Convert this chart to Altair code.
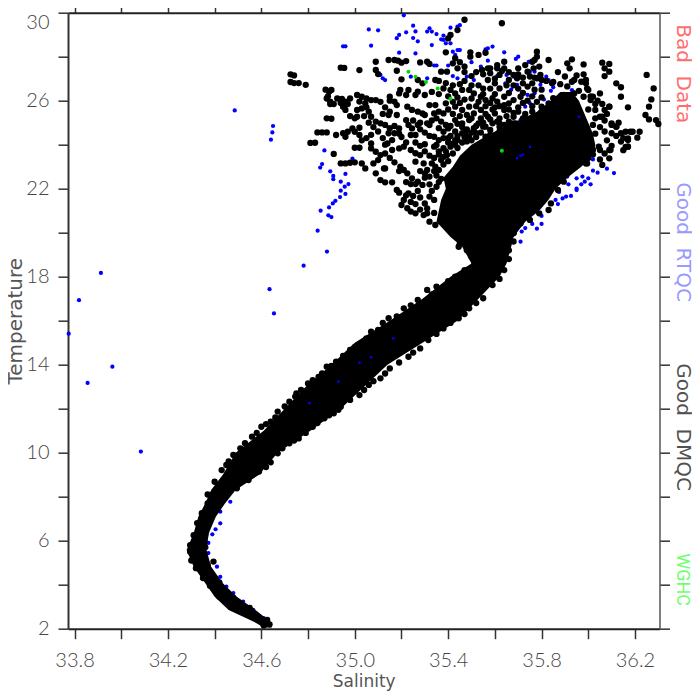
import altair as alt
import pandas as pd

# ---------- solid core of the cloud: temperature, lowest and highest salinity ----------
core_t = [2.05,2.3,2.85,3.45,4.07,4.82,5.58,6.34,7.09,7.7,8.3,9,10,11,12,13,14,15,16,17,18,18.6,19.36,19.8,20.5,21,21.5,22,22.5,23,23.5,24,24.5,25,25.5,26,26.4]
core_lo = [34.61,34.57,34.46,34.40,34.36,34.31,34.28,34.31,34.33,34.36,34.385,34.435,34.49,34.61,34.70,34.79,34.90,35.0,35.15,35.29,35.41,35.50,35.46,35.41,35.35,35.36,35.37,35.39,35.38,35.42,35.45,35.50,35.58,35.68,35.78,35.84,35.88]
core_hi = [34.645,34.64,34.575,34.495,34.435,34.385,34.365,34.375,34.405,34.445,34.49,34.59,34.67,34.81,34.94,35.04,35.14,35.29,35.44,35.53,35.62,35.65,35.67,35.68,35.73,35.79,35.83,35.86,35.91,35.97,36.02,36.03,36.02,36.0,35.98,35.96,35.93]

# ---------- black points (DMQC) ----------
band_upper = [(35.35,17.55),(35.31,17.4),(35.27,16.94),(35.21,16.56),(35.145,16.11),(35.10,15.58),(35.07,15.5),(35.03,14.97),(34.98,14.67),(34.92,14.14),(34.88,13.91),(34.845,13.45),(34.80,13.15),(34.77,12.85),(34.745,12.55),(34.72,12.32),(34.67,11.87),(34.64,11.41),(34.60,11.18),(34.56,10.73),(34.53,10.43),(34.48,9.9),(34.45,9.44),(34.43,9.21),(34.40,8.68),(34.37,8.1),
 (35.33,17.2),(35.24,16.7),(35.18,16.2),(35.12,15.9),(35.05,15.2),(35.0,14.8),(34.95,14.4),(34.90,13.95),(34.86,13.6),(34.82,13.3),(34.75,12.7),(34.70,12.1),(34.66,11.6),(34.62,11.3),(34.58,10.9),(34.51,10.2),(34.46,9.6)]
band_lower = [(35.59,17.62),(35.55,17.02),(35.49,16.56),(35.445,16.11),(35.38,15.65),(35.315,15.12),(35.28,14.74),(35.23,14.36),(35.15,13.83),(35.11,13.38),(35.06,13.08),(35.02,12.62),(34.94,12.09),(34.91,11.79),(34.87,11.56),(34.82,11.18),(34.76,10.65),(34.72,10.43),(34.67,9.97),(34.64,9.56),(34.59,9.14),(34.545,8.76),(34.495,8.38),(34.395,5.05),
 (35.52,16.8),(35.47,16.3),(35.41,15.9),(35.35,15.4),(35.25,14.55),(35.19,14.1),(35.13,13.6),(35.08,13.25),(35.04,12.85),(34.98,12.4),(34.93,11.95),(34.89,11.7),(34.84,11.35),(34.79,10.9),(34.74,10.55),(34.69,10.2),(34.62,9.35)]
neck = [(35.45,19.5),(35.48,19.2),(35.50,18.9),(35.51,18.5),(35.47,18.3),(35.43,18.0),(35.40,17.8),(35.66,19.2),(35.68,19.6),(35.66,18.8),(35.64,18.3),(35.62,17.9)]
low_edges = [(34.61,2.15),(34.635,2.2),(34.625,2.4),(34.575,2.5),(34.52,2.75),(34.47,3.1),(34.42,3.45),(34.38,3.95),(34.35,4.3),(34.32,4.75),(34.30,5.1),(34.295,5.5),(34.295,5.8),(34.31,6.25),(34.325,6.8),(34.345,7.25),(34.37,7.7),(34.36,6.3),(34.36,5.7),(34.37,4.9),(34.42,4.1),(34.48,3.4),(34.55,2.95),(34.40,7.4),(34.42,7.9),(34.46,8.4)]
blob_edges = [(35.68,19.97),(35.71,20.42),(35.75,20.58),(35.79,20.88),(35.83,21.03),(35.84,21.33),(35.87,21.94),(35.895,22.32),(35.91,22.85),(35.945,23.15),(35.995,23.15),(36.02,23.76),(36.045,23.91),(36.095,23.76),(36.17,23.91),(36.17,24.29),(36.19,24.59),(36.12,24.82),(36.10,24.97),(36.09,25.73),(36.06,25.27),(36.03,25.58),(36.02,26.18),(35.995,26.56),(35.99,26.94),
 (35.94,26.33),(35.895,26.26),(35.85,26.11),(35.83,25.88),(35.80,25.73),(35.83,25.27),(35.795,24.89),(35.74,24.74),(35.71,24.74),(35.68,24.97),(35.65,24.74),(35.62,24.97),(35.58,24.67),(35.55,24.82),(35.52,24.52),(35.475,24.59),(35.44,24.21),(35.41,23.91),(35.395,23.53),(35.37,23.3),(35.345,23.0),(35.32,22.55),(35.30,22.7),(35.35,22.09),(35.34,21.49),(35.31,20.88)]
crescent = [(35.42,23.6),(35.44,23.85),(35.43,24.0),(35.46,24.1),(35.48,24.15),(35.41,24.05),(35.39,23.7),(35.38,23.45),(35.36,23.55),(35.40,23.25),(35.38,23.1),(35.36,22.85),(35.35,22.6),(35.37,22.45),(35.36,22.3),(35.47,24.35),(35.50,24.2),(35.52,24.35),(35.54,24.55),(35.58,24.45),(35.62,24.6),(35.66,24.85),(35.70,24.6),(35.74,25.0),(35.50,24.55),(35.44,24.4),(35.40,24.3),(35.34,23.4),(35.33,23.15),(35.34,22.8)]
upper_left = [(34.725,27.2),(34.74,27.15),(34.725,26.85),(34.74,26.8),(34.76,26.8),(34.79,26.72),(34.875,26.5),(34.885,26.2),(34.895,25.85),
 (34.89,26.41),(34.90,26.49),(34.88,26.1),(34.895,25.96),(34.925,26.1),(34.945,26.08),(34.96,25.96),(34.95,25.73),(34.96,25.58),
 (35.01,26.26),(35.03,26.18),(35.02,25.96),(35.045,25.88),(35.01,25.58),(35.03,25.65),(35.01,25.27),(35.0,25.2),
 (35.07,26.03),(35.09,26.03),(35.06,25.5),(35.07,25.27),(35.09,25.05),(35.11,24.97),(35.13,24.9),(35.145,25.35),
 (34.84,24.56),(34.86,24.56),(34.88,24.56),(34.81,24.08),(34.83,24.09),(34.88,25.2),(34.90,25.18),
 (34.92,24.44),(34.95,24.52),(34.97,24.59),(34.99,24.74),(35.0,24.59),(35.02,24.77),(35.02,24.44),(34.96,24.36),
 (34.91,23.58),(35.0,23.86),(35.02,23.86),(35.07,24.06),(35.07,23.83),(35.09,23.68),(35.11,23.53),(35.10,23.3),(35.08,23.15),(35.125,22.92),
 (34.94,23.15),(34.96,23.15),(34.98,23.18),(35.0,23.2),(35.03,23.15),(35.045,22.92),(35.09,22.7),(35.11,22.39),(35.13,22.29),(35.16,22.29),(35.13,22.92),
 (35.18,21.94),(35.19,21.82),(35.23,21.79),(35.25,21.67),(35.24,22.21),(35.26,22.21),(35.195,23.0),(35.21,22.85),(35.225,22.7),(35.245,22.47),(35.27,22.32),(35.29,22.17),
 (35.14,24.06),(35.16,23.76),(35.19,23.83),(35.21,23.91),(35.24,23.76),(35.26,23.61),(35.28,23.53),(35.26,23.23),(35.295,23.15),(35.31,22.85),
 (35.21,21.49),(35.2,21.26),(35.225,21.11),(35.24,20.96),(35.26,20.88),(35.295,20.8),(35.32,20.5),(35.345,20.35),(35.37,20.5),(35.395,20.27),(35.445,19.36),(35.30,21.33),(35.32,21.64),
 (35.32,23.5),(35.30,23.7),(35.28,23.95),(35.26,24.1),(35.22,24.1),(35.20,24.35),(35.19,24.5),(35.17,24.85),(35.15,24.75),(35.12,24.3),(35.13,24.0),(35.13,23.6),(35.15,23.4),(35.17,23.2),(35.19,22.8),(35.22,22.3),(35.30,22.5),(35.28,22.8),(35.32,22.2),(35.33,21.9),(35.27,21.9),(35.28,21.6),(35.24,21.4),(35.22,21.7),(35.26,21.3),(35.31,21.1),(35.34,20.9),(35.28,21.05),
 (35.10,24.6),(35.08,24.8),(35.06,25.0),(35.04,25.3),(35.07,24.45),(35.05,24.3),(35.03,24.2),(34.98,25.3),(34.97,25.85),(34.94,25.9),(34.91,25.85),(35.05,25.7),(35.12,25.4),(35.13,25.7),(35.11,25.95),(35.15,26.0),(35.05,26.1),(34.98,26.1)]
upper_mid = [(35.47,29.68),(35.63,29.52),(35.44,29.21),(35.41,28.99),(35.40,28.83),(35.39,28.2),(35.495,28.2),(35.53,28.08),(35.56,28.18),(35.495,28.0),(35.43,27.93),
 (35.09,27.77),(35.145,27.85),(35.17,27.85),(35.185,27.82),(35.20,27.73),(35.22,27.8),(35.28,27.74),(35.31,27.77),(35.32,27.67),(34.94,27.5),(34.955,27.49),(35.02,27.39),(35.09,27.4),(35.10,27.21),(35.18,27.36),(35.20,26.97),(35.27,26.94),(35.29,26.79),(35.345,26.94),(35.37,27.32),(35.395,27.32),(35.42,27.7),(35.44,27.47),(35.47,27.55),(35.50,27.12),(35.545,27.4),(35.58,27.47),(35.61,27.62),(35.64,27.77),(35.70,27.47),(35.73,27.62),(35.76,27.77),(35.795,27.17),
 (35.15,26.18),(35.17,25.96),(35.18,25.8),(35.195,26.49),(35.19,26.33),(35.23,26.49),(35.22,26.26),(35.27,26.41),(35.30,26.26),(35.26,26.26),(35.18,25.35),(35.15,25.5),(35.19,24.74),(35.17,24.52),(35.145,24.52),(35.16,24.21),
 (35.225,25.73),(35.245,25.58),(35.27,25.5),(35.29,25.42),(35.30,25.35),(35.22,25.12),(35.23,24.9),(35.245,24.74),(35.26,24.44),(35.24,24.44),(35.31,24.97),(35.32,24.89),(35.32,25.8),(35.345,25.8),(35.39,25.88),(35.36,25.5),(35.34,25.42),(35.38,25.42),
 (35.34,24.36),(35.36,24.21),(35.35,23.99),(35.38,23.84),(35.34,23.91),(35.30,24.02),(35.37,25.05),(35.39,24.9),(35.40,24.74),(35.38,24.59),
 (35.38,26.56),(35.41,26.49),(35.43,26.33),(35.46,26.49),(35.49,26.49),(35.51,26.33),(35.54,26.18),(35.56,26.03),(35.59,26.11),(35.61,25.96),(35.64,26.18),(35.66,25.88),(35.68,26.03),(35.71,26.18),(35.62,26.56),(35.60,26.79),(35.57,26.94),(35.62,27.17),(35.66,26.94),(35.695,27.02),(35.72,26.79),(35.74,26.64),(35.76,26.79),(35.78,27.02),(35.80,26.94),(35.845,26.79),(35.766,27.47),(35.79,27.55),(35.74,27.32),(35.57,27.47),(35.64,27.47),(35.68,27.17),(35.61,27.47),
 (35.43,25.73),(35.46,25.58),(35.49,25.73),(35.51,25.42),(35.54,25.58),(35.57,25.27),(35.60,25.42),(35.64,25.58),(35.68,25.27),(35.43,25.12),(35.46,24.97),(35.49,25.12),(35.53,24.97),(35.56,24.82),(35.59,24.97),(35.62,24.82),(35.66,24.67),(35.69,24.97),(35.46,24.52),(35.49,24.36),(35.43,24.21),(35.56,24.36),(35.60,24.21),(35.73,24.52),(35.76,24.67),(35.79,24.82),(35.80,24.36),(35.69,24.21),
 (35.45,27.75),(35.47,27.3),(35.52,27.3),(35.55,27.2),(35.58,27.25),(35.60,27.0),(35.63,27.35),(35.66,27.3),(35.70,27.2),(35.72,27.05),(35.75,27.1),(35.77,27.05),(35.82,26.9),(35.85,26.85),
 (35.36,26.9),(35.39,26.8),(35.42,26.7),(35.45,26.75),(35.47,26.9),(35.50,26.7),(35.53,26.7),(35.55,26.55),(35.58,26.55),(35.65,26.7),(35.68,26.7),(35.70,26.55),(35.77,26.5),(35.80,26.5),
 (35.33,26.4),(35.36,26.3),(35.40,26.2),(35.44,26.15),(35.47,26.05),(35.50,26.1),(35.53,25.95),(35.58,25.9),(35.62,25.75),(35.66,25.6),(35.70,25.7),(35.70,25.5),(35.73,25.4),(35.76,25.5),(35.40,25.6),(35.42,25.4),(35.45,25.3),(35.48,25.35),(35.50,25.2),(35.54,25.2),(35.56,25.4),(35.59,25.6),(35.62,25.2),(35.65,25.3),(35.66,25.05),
 (35.36,24.75),(35.38,24.3),(35.41,24.4),(35.43,24.6),(35.46,24.8),(35.51,24.75),(35.40,24.1),(35.36,23.7),(35.32,24.4),(35.30,24.55),(35.28,24.7),(35.28,25.0),(35.25,25.1),(35.27,24.9),(35.33,25.1),(35.35,25.2),
 (35.41,24.85),(35.44,24.95),(35.48,24.7),(35.52,24.85),(35.55,25.0),(35.58,25.15),(35.61,25.05),(35.64,24.9),(35.68,25.45),(35.72,25.2),(35.75,25.05),(35.78,25.15),(35.80,25.5),(35.82,25.6),(35.76,25.75),(35.72,25.9),(35.74,26.0),(35.78,25.95),(35.80,26.15),(35.76,26.2),(35.72,26.35),(35.66,26.35),(35.60,26.3),(35.55,26.3),(35.45,25.9),(35.42,25.95),(35.52,25.75),(35.56,25.75),(35.60,25.7),(35.64,25.8)]
upper_right = [(35.78,28.23),(35.78,28.0),(35.77,27.85),(35.83,27.85),(35.93,27.88),(35.91,27.7),(35.92,27.47),(35.98,27.65),(36.06,27.73),(36.09,27.67),(36.07,27.47),(36.09,27.32),(36.07,27.12),(36.12,26.79),(36.14,26.61),(36.14,26.18),(36.17,25.7),(36.25,27.17),(36.28,26.56),(36.27,26.06),(36.26,25.73),(36.245,25.35),(36.26,25.15),(36.29,25.12),(36.30,24.94),(36.22,24.59),(36.21,24.32),
 (35.98,27.2),(35.99,26.79),(36.0,26.49),(35.97,26.86),(35.94,26.94),(35.93,26.86),(35.98,26.18),(36.01,26.03),(36.05,26.33),(36.07,25.58),(36.09,25.73),(36.05,25.27),(36.10,24.9),(36.12,24.82),(36.16,24.59),(36.18,24.59),(36.14,24.52),(36.17,24.21),(36.17,23.91),(36.10,24.52),(36.14,24.14),(36.09,23.76),(36.05,23.76),(36.09,23.38),(36.05,23.33),(35.99,23.15),(36.06,23.08),(36.02,24.9),(36.0,25.6),(36.03,25.2),
 (35.87,27.3),(35.90,27.1),(35.95,27.15),(35.88,26.75),(35.91,26.65),(35.96,26.45),(36.01,26.2),(36.04,26.0),(36.06,25.85),(36.03,25.85),(36.08,25.4),(36.13,25.0),(36.07,25.1),(36.05,24.8),(36.07,24.6),(36.12,24.4),(36.15,24.3),(36.08,24.2),(36.10,23.95),(36.03,24.5),(36.16,23.9),(36.15,23.75),(36.02,23.55),(36.07,23.6),(36.0,23.4)]

# ---------- blue points (RTQC) ----------
blue_outliers = [(34.486,25.56),(34.65,24.85),(34.647,24.56),(34.641,24.23),(34.87,23.74),(34.86,23.12),(34.852,22.96),(34.895,22.79),(34.908,22.58),(34.908,22.43),(34.96,22.67),(34.94,22.32),(34.973,22.21),(34.957,22.09),(34.94,21.91),(34.96,21.76),(34.937,21.62),(34.917,21.45),(34.906,21.33),(34.89,21.15),(34.854,21.0),(34.887,20.79),(34.90,20.71),(34.841,20.09),(34.881,19.14),(34.781,18.5),(34.99,23.37),
 (34.635,17.43),(34.654,16.33),(33.913,18.17),(33.819,16.93),(33.775,15.41),(33.962,13.91),(33.856,13.17),(34.084,10.05)]
blue_top = [(35.21,29.88),(35.06,29.24),(35.10,29.20),(35.19,28.99),(35.18,28.84),(35.22,29.11),(35.25,29.41),(35.26,29.15),(35.25,28.85),(35.27,28.70),(35.31,29.14),(35.32,29.29),(35.33,29.14),(35.35,29.03),(35.41,29.32),(35.45,29.43),(35.44,29.37),(35.38,28.96),(35.38,28.76),(35.37,28.79),(35.39,28.61),(35.33,28.53),(35.41,28.61),(34.95,28.47),(34.96,28.47),(35.07,28.5),(35.19,28.18),(35.26,28.15),(35.42,28.23),(35.44,28.3),(35.45,28.3),(35.43,28.08),(35.56,28.33),(35.57,28.38),(35.59,28.46),(35.64,28.2),(35.70,28.0),(35.69,27.9),(35.57,27.82),(35.50,27.75),(35.745,27.77),(35.34,27.6),(35.40,27.6),(35.47,27.6),
 (35.35,27.6),(35.44,27.02),(35.48,27.09),(35.42,27.12),(35.24,27.09),(35.12,27.02),(35.11,27.17),(35.13,26.94),(35.31,27.02),(35.51,26.94),(35.68,27.09),(35.54,27.55),(35.61,27.12),(35.65,27.17),(35.75,27.32),(35.77,27.32),(35.82,27.09),(35.645,26.79),(35.67,26.5),(35.695,26.72),(35.795,26.72),(35.83,26.94),(35.85,26.61),(35.84,26.45),(35.93,26.48)]
blue_inner = [(35.71,25.12),(35.74,25.2),(35.76,25.24),(35.79,25.4),(35.78,25.27),(35.80,25.2),(35.73,25.73),(35.75,25.88),(35.74,26.26),(35.77,26.34),(35.81,26.06),(35.82,24.85),(35.85,24.85)]
blue_fringe = [(35.80,20.76),(35.76,20.4),(35.80,20.4),(35.78,20.18),(35.73,20.21),(35.715,20.05),(35.71,19.59),(35.685,19.97),(35.87,21.3),(35.86,21.49),(35.89,21.56),(35.905,21.64),(35.926,21.67),(35.875,21.85),(35.915,22.2),(35.95,22.0),(35.95,21.94),(35.97,22.2),(35.95,22.47),(35.975,22.55),(35.985,22.32),(36.0,22.47),(36.01,22.2),(36.02,22.82),(36.04,22.73),(36.08,22.91),(36.11,22.71),(36.02,23.33),(35.91,22.55),
 (34.424,6.79),(34.404,6.52),(34.39,6.29),(34.41,4.82),(34.424,4.36),(34.45,3.91),(34.48,3.62),(34.522,3.23),(34.565,2.85),(34.61,2.48),(34.373,5.9),(34.373,5.44),(34.424,7.32),(34.467,7.77)]
blue_specks = [(34.806,12.25),(34.93,13.23),(35.07,14.34),(35.02,14.09),(35.165,15.2),(35.96,25.27),(35.75,23.9),(35.695,23.38),(35.71,23.5),(35.72,23.55)]

# ---------- green points (WGHC) ----------
green = [(35.23,27.32),(35.26,27.09),(35.305,26.85),(35.355,26.56),(35.41,26.09),(35.63,23.73)]

x_ticks = [33.8,34.0,34.2,34.4,34.6,34.8,35.0,35.2,35.4,35.6,35.8,36.0,36.2]
y_ticks = [2,4,6,8,10,12,14,16,18,20,22,24,26,28,30]
x_dom = [33.772,36.305]
y_dom = [2,30]

sx = alt.Scale(domain=x_dom, nice=False, zero=False)
sy = alt.Scale(domain=y_dom, nice=False, zero=False)
FONT = "Lato"
TITLE_FONT = "DejaVu Sans"
INK = "#444444"

def frame(xside, yside, labels):
    xa = alt.Axis(orient=xside, values=x_ticks, title="Salinity" if labels else None, grid=False,
                  labels=labels, tickSize=10, tickWidth=1.5, tickColor="#333333",
                  domainColor="#222222", domainWidth=2,
                  labelFont=FONT, labelFontSize=20, labelColor=INK, labelFontWeight=300, labelPadding=12,
                  labelOverlap=False, labelFlush=False, labelBound=False,
                  labelExpr="round((datum.value-33.8)/0.2)%2==0 ? format(datum.value,'.1f') : ''",
                  titleFont=TITLE_FONT, titleFontSize=17, titleFontWeight="normal", titleColor="#555555", titlePadding=3)
    ya = alt.Axis(orient=yside, values=y_ticks, title="Temperature" if labels else None, grid=False,
                  labels=labels, tickSize=10, tickWidth=1.5, tickColor="#333333",
                  domainColor="#333333" if labels else "#555555", domainWidth=2 if labels else 1.5,
                  labelFont=FONT, labelFontSize=20, labelColor=INK, labelFontWeight=300, labelPadding=9,
                  labelOverlap=False, labelFlush=False, labelBound=False,
                  labelBaseline={"condition": {"test": "datum.value == 30", "value": "top"}, "value": "middle"},
                  labelExpr="datum.value%4==2 ? format(datum.value,'d') : ''",
                  titleFont=TITLE_FONT, titleFontSize=20, titleFontWeight="normal", titleColor="#555555", titlePadding=0)
    return xa, ya

def pts(pairs, color, size):
    df = pd.DataFrame(pairs, columns=["S", "T"])
    return alt.Chart(df).mark_circle(color=color, size=size, opacity=1).encode(
        x=alt.X("S:Q", scale=sx, axis=None), y=alt.Y("T:Q", scale=sy, axis=None))

xa, ya = frame("bottom", "left", True)
xb, yb = frame("top", "right", False)

axes_a = alt.Chart(pd.DataFrame({"S": [34.0], "T": [4.0]})).mark_circle(opacity=0).encode(
    x=alt.X("S:Q", scale=sx, axis=xa), y=alt.Y("T:Q", scale=sy, axis=ya))
axes_b = alt.Chart(pd.DataFrame({"S": [34.0], "T": [4.0]})).mark_circle(opacity=0).encode(
    x=alt.X("S:Q", scale=sx, axis=xb), y=alt.Y("T:Q", scale=sy, axis=yb))

core = alt.Chart(pd.DataFrame({"T": core_t, "lo": core_lo, "hi": core_hi})).mark_area(
    orient="horizontal", color="black", opacity=1).encode(
    y=alt.Y("T:Q", scale=sy, axis=None),
    x=alt.X("lo:Q", scale=sx, axis=None), x2="hi:Q")

def side_label(text, color, ypx, font="DejaVu Sans", size=20):
    return alt.Chart(pd.DataFrame({"t": [text]})).mark_text(
        font=font, fontSize=size, color=color, angle=90, align="left",
        baseline="alphabetic", fontWeight="normal", opacity=0.85).encode(
        text="t:N", x=alt.value(609), y=alt.value(ypx))

NB = "\u00a0\u00a0"
BLUE = "#0000ff"
BLACK_SIZE = 40
chart = alt.layer(
    axes_a, axes_b,
    pts(blue_outliers, BLUE, 18), pts(blue_top, BLUE, 18), pts(blue_inner, BLUE, 18), pts(blue_fringe, BLUE, 18),
    core,
    pts(band_upper, "black", BLACK_SIZE), pts(band_lower, "black", BLACK_SIZE), pts(low_edges, "black", BLACK_SIZE),
    pts(neck, "black", BLACK_SIZE), pts(crescent, "black", BLACK_SIZE),
    pts(blob_edges, "black", BLACK_SIZE),
    pts(upper_left, "black", BLACK_SIZE), pts(upper_mid, "black", BLACK_SIZE), pts(upper_right, "black", BLACK_SIZE),
    pts(blue_specks, BLUE, 7),
    pts(green, "#00e000", 16),
    side_label("Bad" + NB + "Data", "#ff5555", 11.5),
    side_label("Good" + NB + "RTQC", "#8888ff", 169.5),
    side_label("Good" + NB + "DMQC", "#333333", 350.5),
    side_label("WGHC", "#55ff55", 540.5, "Roboto", 18),
).resolve_axis(x="independent", y="independent").properties(
    width=591.5, height=616,
    autosize=alt.AutoSizeParams(type="none"),
    padding={"left": 60, "top": 4.7, "right": 32.5, "bottom": 63},
).configure_view(stroke=None)

chart.save("out.html", embed_options={"renderer": "svg", "actions": False})
